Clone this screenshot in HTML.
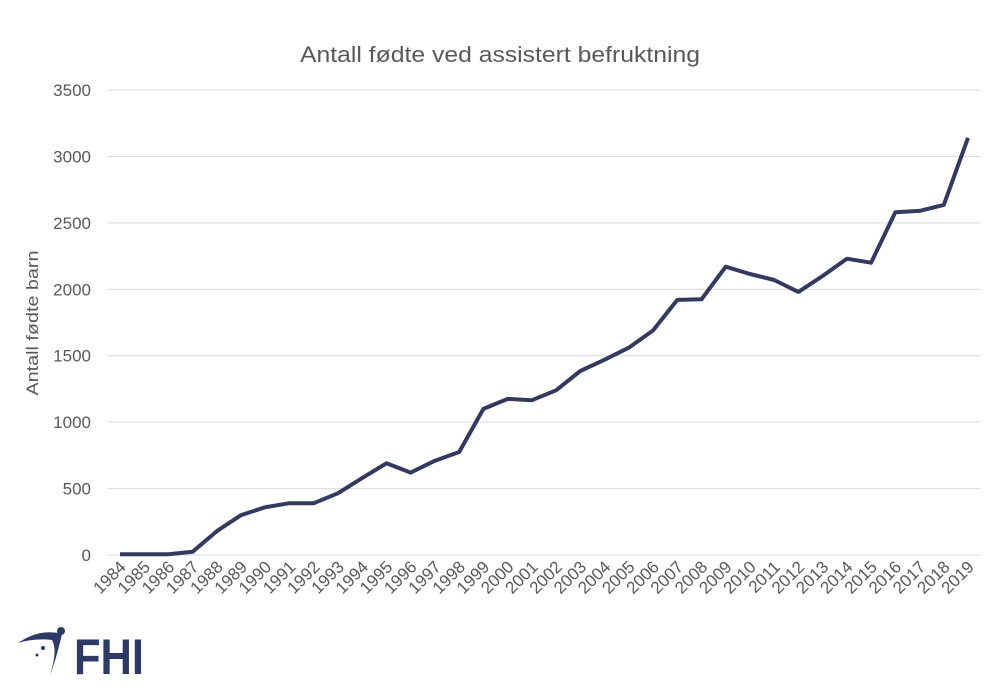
<!DOCTYPE html>
<html><head><meta charset="utf-8"><style>
body{margin:0;background:#fff;font-family:"Liberation Sans",sans-serif}
svg text{font-family:"Liberation Sans",sans-serif}
</style></head><body>
<svg width="1000" height="693">
<text x="500" y="62" text-anchor="middle" font-size="22" fill="#595959" textLength="400" lengthAdjust="spacingAndGlyphs">Antall fødte ved assistert befruktning</text>
<text transform="translate(38,323) rotate(-90)" text-anchor="middle" font-size="17" fill="#595959" textLength="145" lengthAdjust="spacingAndGlyphs">Antall fødte barn</text>
<g id="grid"></g><g id="ylab"></g><g id="xlab"></g>
<path id="line" fill="none" stroke="#343a5e" stroke-width="4" stroke-linejoin="round"/>
<g>
<path d="M18,643 Q40,628 62,634 Q56,660 50,675 Q58,650 52,640 Q35,638 18,643Z" fill="#2e3a65"/>
<circle cx="61" cy="631" r="4" fill="#2e3a65"/>
<circle cx="43" cy="648" r="2" fill="#2e3a65"/>
<circle cx="37" cy="655" r="1.5" fill="#2e3a65"/>
<text x="74" y="674" font-size="50" font-weight="bold" fill="#2e3a65" textLength="70" lengthAdjust="spacingAndGlyphs">FHI</text>
</g>
</svg>
<script>
const years=[1984,1985,1986,1987,1988,1989,1990,1991,1992,1993,1994,1995,1996,1997,1998,1999,2000,2001,2002,2003,2004,2005,2006,2007,2008,2009,2010,2011,2012,2013,2014,2015,2016,2017,2018,2019];
const births=[5,5,5,25,180,300,360,390,390,465,580,690,620,710,775,1100,1175,1165,1240,1385,1470,1560,1690,1920,1925,2170,2115,2070,1980,2100,2230,2200,2580,2590,2635,3140];
const yTicks=[0,500,1000,1500,2000,2500,3000,3500];
const NS="http://www.w3.org/2000/svg";
const x=i=>120+i*(848/35);
const y=v=>555-v*(465/3500);
const g=document.getElementById('grid'),yl=document.getElementById('ylab'),xl=document.getElementById('xlab');
yTicks.forEach(t=>{
 const l=document.createElementNS(NS,'line');
 
 
 l.setAttribute('x1',108);l.setAttribute('x2',980);l.setAttribute('y1',y(t));l.setAttribute('y2',y(t));
 l.setAttribute('stroke','#d9d9d9');l.setAttribute('stroke-width',1);g.appendChild(l);
 const tx=document.createElementNS(NS,'text');
 
 
 tx.setAttribute('x',91);tx.setAttribute('y',y(t)+6);tx.setAttribute('text-anchor','end');
 tx.setAttribute('font-size',17);tx.setAttribute('fill','#595959');tx.textContent=t;yl.appendChild(tx);
});
years.forEach((yr,i)=>{
 const tx=document.createElementNS(NS,'text');
 
 
 const ax=x(i)+7,ay=568;
 tx.setAttribute('transform',`translate(${ax},${ay}) rotate(-45)`);
 tx.setAttribute('text-anchor','end');tx.setAttribute('font-size',17);tx.setAttribute('fill','#595959');
 tx.textContent=yr;xl.appendChild(tx);
});
document.getElementById('line').setAttribute('d',births.map((v,i)=>(i?'L':'M')+x(i).toFixed(1)+','+y(v).toFixed(1)).join(''));
</script>
</body></html>
